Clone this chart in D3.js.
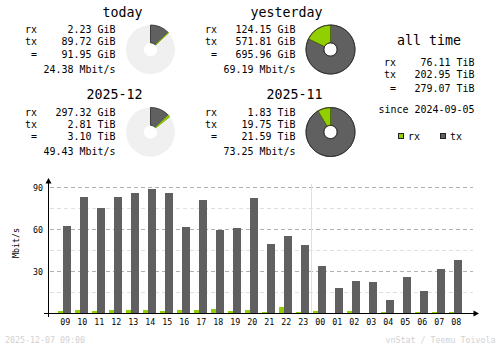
<!DOCTYPE html>
<html><head><meta charset="utf-8">
<script src="https://cdn.jsdelivr.net/npm/d3@7"></script>
<style>
html,body{margin:0;padding:0;background:#fff;}
svg{display:block;}
text{font-family:"DejaVu Sans Mono",monospace;white-space:pre;}
</style></head>
<body>
<svg id="c" width="500" height="348"></svg>
<script>
// ---- data ----
const hours = ["09","10","11","12","13","14","15","16","17","18","19","20","21","22","23","00","01","02","03","04","05","06","07","08"];
const txRate = [62.1,82.9,75.0,82.9,85.7,88.6,85.7,61.4,80.7,59.3,60.7,82.1,49.3,55.0,48.6,33.6,17.9,22.9,22.1,9.3,25.7,15.7,31.4,37.9];
const rxRate = [1.4,2.1,1.4,2.1,2.1,2.1,1.4,2.1,2.1,2.9,1.4,2.1,0.7,4.3,0.7,1.4,0,1.4,0,0.7,0,0.7,0.7,0.7];
const yTicks = [30,60,90];
const yMinorTicks = [15,45,75];
const dayBreak = "00";

const blockTitles = ["today","yesterday","2025-12","2025-11"];
const rxVals  = ["2.23 GiB","124.15 GiB","297.32 GiB","1.83 TiB"];
const txVals  = ["89.72 GiB","571.81 GiB","2.81 TiB","19.75 TiB"];
const totVals = ["91.95 GiB","695.96 GiB","3.10 TiB","21.59 TiB"];
const rateVals = ["24.38 Mbit/s","69.19 Mbit/s","49.43 Mbit/s","73.25 Mbit/s"];
// index of the block each pie is compared against (null = full period)
const pieRef = [1,null,3,null];

const allTitle = "all time";
const allRx = "76.11 TiB", allTx = "202.95 TiB", allTot = "279.07 TiB";
const sinceText = "since 2024-09-05";
const legendLabels = ["rx","tx"];
const footerLeft = "2025-12-07 09:00";
const footerRight = "vnStat / Teemu Toivola";
const yLabel = "Mbit/s";

// ---- style ----
const RX = "#92CF00", TX = "#606060";
const svg = d3.select("#c");

const FONTS = {
  small:{fs:11, cw:6},
  large:{fs:14, cw:8},
  tiny:{fs:8.4, cw:5}
};
function txt(g, x, y, s, font, anchor, color){
  const f = FONTS[font];
  return g.append("text").attr("x",x).attr("y",y)
    .attr("text-anchor",anchor||"start")
    .attr("font-size",f.fs)
    .attr("textLength", s.length*f.cw)
    .attr("lengthAdjust","spacingAndGlyphs")
    .attr("fill", color||"#000")
    .text(s);
}
function toGiB(s){ const v=parseFloat(s); return s.includes("TiB")? v*1024 : v; }

// ---- summary blocks ----
const blockPos = [
  {x0:25, y0:0, pcx:150.5, pcy:49.5},
  {x0:205, y0:0, pcx:330.5, pcy:49.5},
  {x0:25, y0:82.5, pcx:150.5, pcy:132},
  {x0:205, y0:82.5, pcx:330.5, pcy:132}
];
const arc = d3.arc().innerRadius(6.7).outerRadius(24.5);
blockTitles.forEach((title,i)=>{
  const p = blockPos[i];
  const g = svg.append("g");
  txt(g, p.x0+117.5, p.y0+16.5, title, "large", "end");
  txt(g, p.x0, p.y0+33.3, "rx", "small");
  txt(g, p.x0, p.y0+45.3, "tx", "small");
  txt(g, p.x0+6, p.y0+57.6, "=", "small");
  txt(g, p.x0+90.6, p.y0+33.3, rxVals[i], "small", "end");
  txt(g, p.x0+90.6, p.y0+45.3, txVals[i], "small", "end");
  txt(g, p.x0+90.6, p.y0+57.6, totVals[i], "small", "end");
  txt(g, p.x0+90.6, p.y0+72.6, rateVals[i], "small", "end");

  // pie
  const rx = toGiB(rxVals[i]), tx = toGiB(txVals[i]), tot = rx+tx;
  const frac = pieRef[i]===null ? 1 : toGiB(totVals[i]) / toGiB(totVals[pieRef[i]]);
  const full = 2*Math.PI*frac;
  const pg = g.append("g").attr("transform",`translate(${p.pcx},${p.pcy})`);
  if (frac < 1) {
    pg.append("path").attr("d", arc({startAngle:0,endAngle:2*Math.PI})).attr("fill","#f0f0f0");
  }
  const txEnd = full*tx/tot;
  pg.append("path").attr("d", arc({startAngle:0,endAngle:txEnd}))
    .attr("fill",TX).attr("stroke","#333").attr("stroke-width",0.9);
  pg.append("path").attr("d", arc({startAngle:txEnd,endAngle:full}))
    .attr("fill",RX).attr("stroke", frac<1 ? "#7db000" : "#4a6a00").attr("stroke-width",0.9);
  if (frac >= 1) {
    pg.append("circle").attr("r",24.5).attr("fill","none").attr("stroke","#333").attr("stroke-width",0.9);
    pg.append("circle").attr("r",6.7).attr("fill","none").attr("stroke","#333").attr("stroke-width",0.9);
  }
});

// ---- all time ----
{
  const g = svg.append("g");
  const x0 = 384;
  txt(g, 429, 45, allTitle, "large", "middle");
  txt(g, x0, 66, "rx", "small");
  txt(g, x0, 78, "tx", "small");
  txt(g, x0+6, 91.7, "=", "small");
  txt(g, x0+90.6, 66, allRx, "small", "end");
  txt(g, x0+90.6, 78, allTx, "small", "end");
  txt(g, x0+90.6, 91.7, allTot, "small", "end");
  txt(g, x0+90.6, 112.7, sinceText, "small", "end");
  // legend
  const lx = [398.5, 440.5];
  legendLabels.forEach((l,k)=>{
    g.append("rect").attr("x",lx[k]).attr("y",133.5).attr("width",5).attr("height",5)
      .attr("fill", k===0?RX:TX).attr("stroke","#222").attr("stroke-width",1);
    txt(g, lx[k]+9.5, 140, l, "small");
  });
}

// ---- hourly chart ----
const x = d3.scaleBand().domain(hours).range([56, 56+17*hours.length]).padding(0);
const y = d3.scaleLinear().domain([0,90]).range([313,187]);
const cg = svg.append("g").attr("shape-rendering","crispEdges");

// gridlines
yMinorTicks.forEach(v=>{
  cg.append("line").attr("x1",50).attr("x2",473).attr("y1",Math.round(y(v))+0.5).attr("y2",Math.round(y(v))+0.5)
    .attr("stroke","#e0e0e0").attr("stroke-dasharray","4,3");
});
yTicks.forEach(v=>{
  cg.append("line").attr("x1",50).attr("x2",473).attr("y1",Math.round(y(v))+0.5).attr("y2",Math.round(y(v))+0.5)
    .attr("stroke","#b0b0b0").attr("stroke-dasharray","4,3");
});
// day separator
cg.append("line").attr("x1",x(dayBreak)+0.5).attr("x2",x(dayBreak)+0.5).attr("y1",184).attr("y2",y(0))
  .attr("stroke","#e0e0e0");

// bars
cg.selectAll(".rx").data(hours).join("rect")
  .attr("x",h=>x(h)+2).attr("width",5)
  .attr("y",(h,i)=>y(rxRate[i])).attr("height",(h,i)=>y(0)-y(rxRate[i]))
  .attr("fill",RX);
cg.selectAll(".tx").data(hours).join("rect")
  .attr("x",h=>x(h)+7).attr("width",8)
  .attr("y",(h,i)=>y(txRate[i])).attr("height",(h,i)=>y(0)-y(txRate[i]))
  .attr("fill",TX);

// axes
cg.append("line").attr("x1",48.5).attr("x2",48.5).attr("y1",181).attr("y2",317).attr("stroke","#000");
cg.append("line").attr("x1",44).attr("x2",475).attr("y1",313.5).attr("y2",313.5).attr("stroke","#000");
svg.append("path").attr("d","M48.5,178 L51.5,183.5 L45.5,183.5 Z").attr("fill","#000");
svg.append("path").attr("d","M479,313.5 L473.5,310.5 L473.5,316.5 Z").attr("fill","#000");

// tick labels
yTicks.forEach(v=>{ txt(svg, 43, y(v)+4.2, String(v), "tiny", "end"); });
hours.forEach(h=>{ txt(svg, x(h)+9.2, 324.5, h, "tiny", "middle"); });
txt(svg, 0, 0, yLabel, "tiny", "middle").attr("transform","translate(18.5,243) rotate(-90)");

// footer
txt(svg, 5, 343, footerLeft, "tiny", "start", "#d2d2d2");
txt(svg, 495.5, 343, footerRight, "tiny", "end", "#d2d2d2");
</script>
</body></html>
